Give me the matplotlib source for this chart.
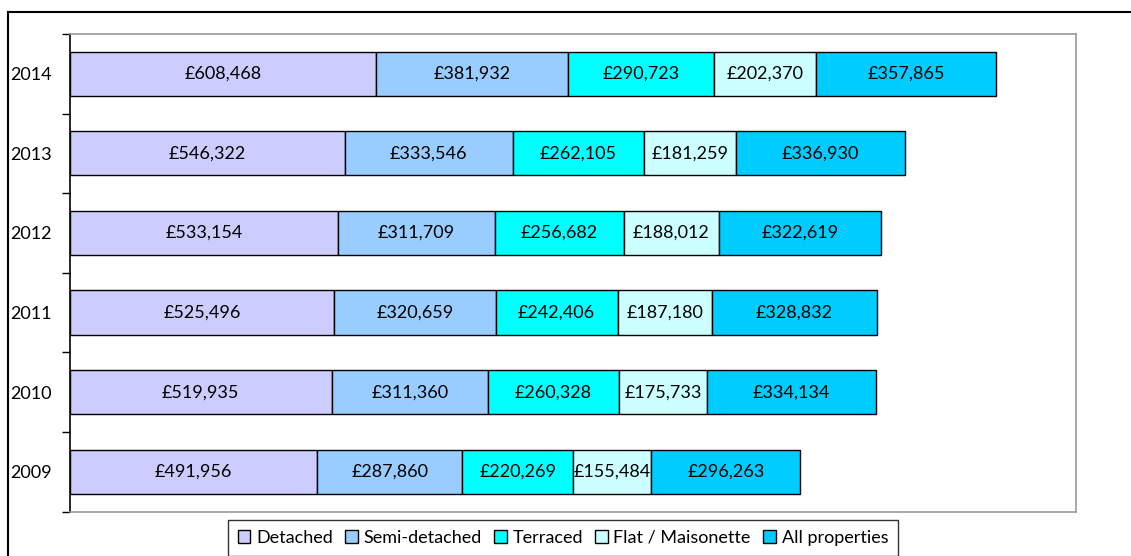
import numpy as np
import matplotlib.pyplot as plt
from matplotlib.lines import Line2D

plt.rcParams["font.family"] = ["Lato", "DejaVu Sans"]

# Data
years = ["2009", "2010", "2011", "2012", "2013", "2014"]
series = ["Detached", "Semi-detached", "Terraced", "Flat / Maisonette", "All properties"]
detached = [491956, 519935, 525496, 533154, 546322, 608468]
semi = [287860, 311360, 320659, 311709, 333546, 381932]
terraced = [220269, 260328, 242406, 256682, 262105, 290723]
flat = [155484, 175733, 187180, 188012, 181259, 202370]
all_props = [296263, 334134, 328832, 322619, 336930, 357865]
colors = ["#CCCCFF", "#99CCFF", "#00FFFF", "#CCFFFF", "#00CCFF"]

values = [detached, semi, terraced, flat, all_props]

fig = plt.figure(figsize=(11.31, 5.56), dpi=100)
ax = fig.add_axes([70 / 1131, 44.5 / 556, 1006 / 1131, 477.5 / 556])

y = np.arange(len(years))
left = np.zeros(len(years))
for name, vals, col in zip(series, values, colors):
    vals = np.array(vals)
    ax.barh(y, vals, left=left, height=0.555, color=col,
            edgecolor="black", linewidth=1, label=name)
    for yi, l, v in zip(y, left, vals):
        ax.text(l + v / 2, yi, f"£{v:,}", ha="center", va="center",
                fontsize=13, color="black")
    left += vals

ax.set_xlim(0, 2000000)
ax.set_ylim(-0.5, len(years) - 0.5)
ax.set_xticks([])

# tick marks at category boundaries, labels at centres
ax.set_yticks(np.arange(-0.5, len(years), 1.0))
ax.set_yticklabels([])
ax.set_yticks(y, minor=True)
ax.set_yticklabels(years, minor=True, fontsize=13)
ax.tick_params(axis="y", which="major", length=6, width=1, direction="out", color="black")
ax.tick_params(axis="y", which="minor", length=0, pad=13)

for s in ["top", "right", "bottom"]:
    ax.spines[s].set_color("#999999")
    ax.spines[s].set_linewidth(1.2)
ax.spines["left"].set_color("black")
ax.spines["left"].set_linewidth(1.2)

leg = fig.legend(loc="upper center", bbox_to_anchor=(563 / 1131, 1 - 520 / 556),
                 ncol=5, frameon=True, fancybox=False, fontsize=13,
                 handlelength=0.7, handleheight=0.7, handletextpad=0.3,
                 columnspacing=0.7, borderpad=0.55, borderaxespad=0)
leg.get_frame().set_edgecolor("black")
leg.get_frame().set_linewidth(1)
for h in leg.legend_handles:
    h.set_linewidth(1)

# outer chart frame
fx = 8 / 1131
fy = 1 - 12 / 556
fig.add_artist(Line2D([fx, fx], [0, fy], transform=fig.transFigure, color="black", lw=1.5))
fig.add_artist(Line2D([fx, 1], [fy, fy], transform=fig.transFigure, color="black", lw=1.5))

fig.savefig("out.png", dpi=100)
